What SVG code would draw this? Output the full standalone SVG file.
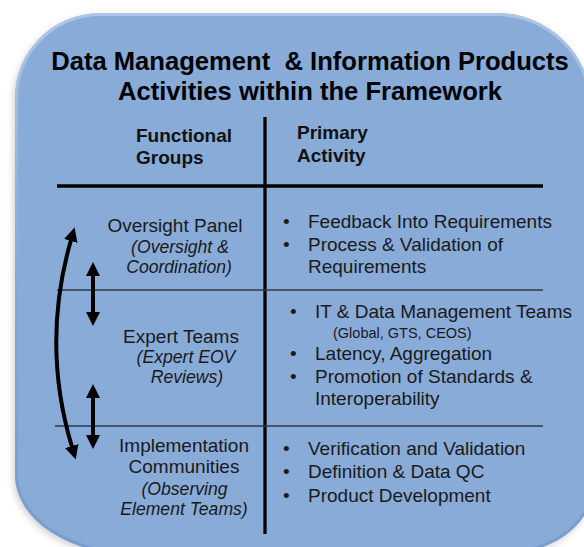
<svg xmlns="http://www.w3.org/2000/svg" width="584" height="547" viewBox="0 0 584 547">
<defs>
<style>
.title{font-family:"Liberation Sans",Arial,sans-serif;font-weight:bold;font-size:25.6px;fill:#000;text-anchor:middle}
.hdr{font-family:"Liberation Sans",Arial,sans-serif;font-weight:bold;font-size:19px;fill:#111}
.grp{font-family:"Liberation Sans",Arial,sans-serif;font-size:19px;fill:#1a1a1a;text-anchor:middle}
.grpi{font-family:"Liberation Sans",Arial,sans-serif;font-size:17.6px;font-style:italic;fill:#1a1a1a;text-anchor:middle}
.act{font-family:"Liberation Sans",Arial,sans-serif;font-size:19px;fill:#1a1a1a}
.small{font-family:"Liberation Sans",Arial,sans-serif;font-size:14.5px;fill:#1a1a1a}
.thick{stroke:#000;stroke-width:3.3;fill:none}
.thin{stroke:#2a3848;stroke-width:1.5;fill:none}
.arr{stroke:#000;stroke-width:4;fill:none;marker-start:url(#ah);marker-end:url(#ah)}
</style>
<marker id="ah" markerUnits="userSpaceOnUse" markerWidth="16" markerHeight="16" refX="1" refY="7" orient="auto-start-reverse">
<path d="M0,0 L14,7 L0,14 z" fill="#000"/>
</marker>
<linearGradient id="bev" x1="0" y1="0" x2="0" y2="1">
<stop offset="0" stop-color="#bcd2ef"/>
<stop offset="0.5" stop-color="#84a8d6"/>
<stop offset="1" stop-color="#7096c9"/>
</linearGradient>
<clipPath id="clip"><path d="M15,98 A85,85 0 0 1 100,13 L497,13 A95,95 0 0 1 592,108 L592,490 A95,65 0 0 1 497,555 L135,555 A120,80 0 0 1 15,475 Z"/></clipPath>
<filter id="sh" x="-10%" y="-10%" width="120%" height="120%"><feGaussianBlur stdDeviation="3"/></filter>
</defs>
<g id="background">
<path d="M15,98 A85,85 0 0 1 100,13 L497,13 A95,95 0 0 1 592,108 L592,490 A95,65 0 0 1 497,555 L135,555 A120,80 0 0 1 15,475 Z" transform="translate(-2,3)" fill="#a0a0a0" opacity="0.45" filter="url(#sh)"/>
<path d="M15,98 A85,85 0 0 1 100,13 L497,13 A95,95 0 0 1 592,108 L592,490 A95,65 0 0 1 497,555 L135,555 A120,80 0 0 1 15,475 Z" fill="#88abd8"/>
<path d="M15,98 A85,85 0 0 1 100,13 L497,13 A95,95 0 0 1 592,108 L592,490 A95,65 0 0 1 497,555 L135,555 A120,80 0 0 1 15,475 Z" fill="none" stroke="url(#bev)" stroke-width="6" clip-path="url(#clip)" opacity="0.7"/>
</g>
<g id="title">
<text class="title" x="310" y="70" xml:space="preserve">Data Management  &amp; Information Products</text>
<text class="title" x="310" y="100">Activities within the Framework</text>
</g>
<g id="table-lines">
<line class="thick" x1="265" y1="117" x2="265" y2="534"/>
<line class="thick" x1="57" y1="186" x2="543" y2="186"/>
<line class="thin" x1="57" y1="290" x2="543" y2="290"/>
<line class="thin" x1="55" y1="426" x2="543" y2="426"/>
</g>
<g id="header-groups">
<text class="hdr" x="136" y="142">Functional</text>
<text class="hdr" x="136" y="164">Groups</text>
</g>
<g id="header-activity">
<text class="hdr" x="297" y="139">Primary</text>
<text class="hdr" x="297" y="162">Activity</text>
</g>
<g id="oversight-panel">
<text class="grp" x="175" y="232">Oversight Panel</text>
<text class="grpi" x="180" y="253">(Oversight &amp;</text>
<text class="grpi" x="179" y="273">Coordination)</text>
</g>
<g id="expert-teams">
<text class="grp" x="181" y="343">Expert Teams</text>
<text class="grpi" x="186" y="363">(Expert EOV</text>
<text class="grpi" x="187" y="383">Reviews)</text>
</g>
<g id="implementation-communities">
<text class="grp" x="184" y="452">Implementation</text>
<text class="grp" x="184" y="473">Communities</text>
<text class="grpi" x="184.5" y="495">(Observing</text>
<text class="grpi" x="184" y="515">Element Teams)</text>
</g>
<g id="oversight-activities">
<text class="act" x="283" y="228">•</text><text class="act" x="308" y="228">Feedback Into Requirements</text>
<text class="act" x="283" y="251">•</text><text class="act" x="308" y="251">Process &amp; Validation of</text>
<text class="act" x="308" y="273">Requirements</text>
</g>
<g id="expert-activities">
<text class="act" x="290" y="318">•</text><text class="act" x="315" y="318">IT &amp; Data Management Teams</text>
<text class="small" x="333" y="338">(Global, GTS, CEOS)</text>
<text class="act" x="290" y="360">•</text><text class="act" x="315" y="360">Latency, Aggregation</text>
<text class="act" x="290" y="383">•</text><text class="act" x="315" y="383">Promotion of Standards &amp;</text>
<text class="act" x="315" y="405">Interoperability</text>
</g>
<g id="implementation-activities">
<text class="act" x="283" y="455">•</text><text class="act" x="308" y="455">Verification and Validation</text>
<text class="act" x="283" y="478">•</text><text class="act" x="308" y="478">Definition &amp; Data QC</text>
<text class="act" x="283" y="502">•</text><text class="act" x="308" y="502">Product Development</text>
</g>
<g id="connectors">
<path class="arr" d="M71,240 Q41,344 72,447"/>
<path class="arr" d="M93,275 L93,313"/>
<path class="arr" d="M93,397 L93,436"/>
</g>
</svg>
